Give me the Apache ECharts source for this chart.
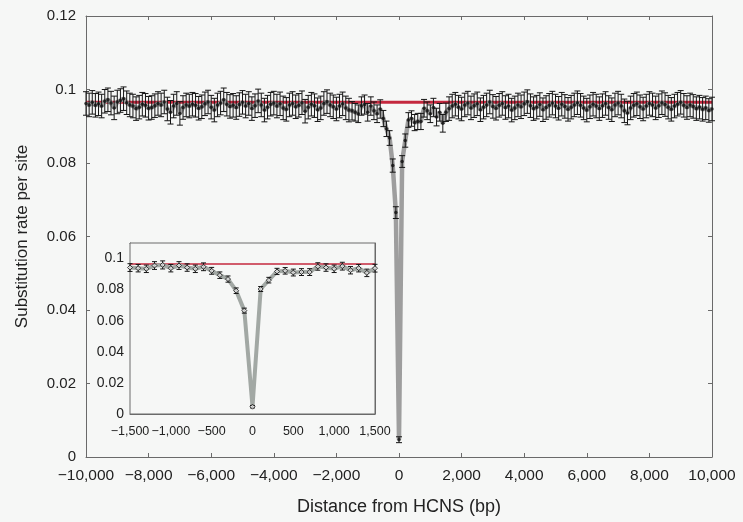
<!DOCTYPE html>
<html>
<head>
<meta charset="utf-8">
<script src="https://cdn.jsdelivr.net/npm/echarts@6/dist/echarts.min.js"></script>
<style>html,body{margin:0;padding:0;background:#f6f7f6;}#c{width:743px;height:522px;}</style>
</head>
<body>
<div id="c"></div>
<script>
// Bin positions (bp): 100 bp bins from -10000 to 10000
const BIN_START = -10000;
const BIN_WIDTH = 100;

// Substitution rate, bins -10000 .. -1600
const farLeft = [
  0.0962, 0.0958, 0.0965, 0.0957, 0.0961, 0.0955, 0.0968, 0.0972, 0.0963, 0.0950,
  0.0966, 0.0970, 0.0975, 0.0964, 0.0958, 0.0955, 0.0948, 0.0952, 0.0960, 0.0957,
  0.0949, 0.0951, 0.0956, 0.0962, 0.0958, 0.0966, 0.0947, 0.0938, 0.0955, 0.0962,
  0.0935, 0.0951, 0.0958, 0.0955, 0.0960, 0.0957, 0.0949, 0.0953, 0.0961, 0.0966,
  0.0952, 0.0944, 0.0958, 0.0963, 0.0972, 0.0960, 0.0954, 0.0957, 0.0951, 0.0959,
  0.0965, 0.0955, 0.0962, 0.0948, 0.0956, 0.0969, 0.0958, 0.0944, 0.0952, 0.0960,
  0.0963, 0.0955, 0.0961, 0.0950, 0.0946, 0.0958, 0.0962, 0.0953, 0.0957, 0.0964,
  0.0941, 0.0952, 0.0960, 0.0956, 0.0945, 0.0950, 0.0962, 0.0967, 0.0958, 0.0953,
  0.0947, 0.0955, 0.0961, 0.0950, 0.0944
];
// Substitution rate, bins -1500 .. 1500 (also shown in the inset)
const core = [
  0.0942, 0.0938, 0.0934, 0.0955, 0.0959, 0.0938, 0.0955, 0.0942, 0.0934, 0.0947,
  0.0921, 0.0893, 0.0868, 0.0793, 0.0665, 0.0047, 0.0804, 0.0861, 0.0917, 0.0921,
  0.0910, 0.0913, 0.0913, 0.0949, 0.0942, 0.0934, 0.0951, 0.0925, 0.0938, 0.0908,
  0.0938
];
const coreErr = [
  0.0025, 0.0024, 0.0024, 0.0025, 0.0026, 0.0024, 0.0025, 0.0024, 0.0024, 0.0025,
  0.0022, 0.0021, 0.0020, 0.0018, 0.0016, 0.0008, 0.0016, 0.0018, 0.0020, 0.0021,
  0.0022, 0.0022, 0.0022, 0.0024, 0.0024, 0.0024, 0.0025, 0.0024, 0.0024, 0.0024,
  0.0025
];
// Substitution rate, bins 1600 .. 10000
const farRight = [
  0.0948, 0.0955, 0.0960, 0.0952, 0.0947, 0.0958, 0.0963, 0.0950, 0.0956, 0.0961,
  0.0945, 0.0952, 0.0958, 0.0966, 0.0954, 0.0949, 0.0957, 0.0962, 0.0951, 0.0955,
  0.0944, 0.0950, 0.0958, 0.0953, 0.0961, 0.0967, 0.0956, 0.0948, 0.0952, 0.0959,
  0.0945, 0.0951, 0.0957, 0.0963, 0.0955, 0.0949, 0.0960, 0.0954, 0.0946, 0.0952,
  0.0958, 0.0964, 0.0957, 0.0950, 0.0944, 0.0953, 0.0960, 0.0955, 0.0948, 0.0956,
  0.0962, 0.0951, 0.0945, 0.0958, 0.0963, 0.0955, 0.0942, 0.0936, 0.0950, 0.0957,
  0.0961, 0.0953, 0.0947, 0.0955, 0.0962, 0.0958, 0.0950, 0.0956, 0.0964, 0.0959,
  0.0952, 0.0946, 0.0955, 0.0960, 0.0965, 0.0957, 0.0951, 0.0958, 0.0954, 0.0948,
  0.0952, 0.0946, 0.0950, 0.0943, 0.0947
];
const FAR_ERR = 0.0032;
const NEUTRAL_RATE = 0.0965;

const mainXTicks = { min: -10000, max: 10000, interval: 2000 };
const mainYTicks = { min: 0, max: 0.12, interval: 0.02 };
const insetXTicks = { min: -1500, max: 1500, interval: 500 };
const insetYTicks = { min: 0, max: 0.11, interval: 0.02 };

// ---- build data ----
const values = farLeft.concat(core, farRight);
const errs = farLeft.map(() => FAR_ERR).concat(coreErr, farRight.map(() => FAR_ERR));
const pts = values.map((v, i) => [BIN_START + i * BIN_WIDTH, v]);
const bars = values.map((v, i) => [BIN_START + i * BIN_WIDTH, v - errs[i], v + errs[i]]);
const corePts = pts.filter(p => p[0] >= -1500 && p[0] <= 1500);
const coreBars = bars.filter(p => p[0] >= -1500 && p[0] <= 1500);

const fmtNum = v => (v < 0 ? '\u2212' : '') + Math.abs(v).toLocaleString('en-US');

function errItem(cap) {
  return function (params, api) {
    const x = api.value(0);
    const lo = api.coord([x, api.value(1)]);
    const hi = api.coord([x, api.value(2)]);
    const st = { stroke: '#151515', lineWidth: 1 };
    return {
      type: 'group',
      children: [
        { type: 'line', shape: { x1: lo[0], y1: lo[1], x2: hi[0], y2: hi[1] }, style: st },
        { type: 'line', shape: { x1: lo[0] - cap, y1: lo[1], x2: lo[0] + cap, y2: lo[1] }, style: st },
        { type: 'line', shape: { x1: hi[0] - cap, y1: hi[1], x2: hi[0] + cap, y2: hi[1] }, style: st }
      ]
    };
  };
}

const FONT = 'Liberation Sans';
const axisLineStyle = { color: '#6a6a6a', width: 1 };

function xAx(grid, t, pos, labels, fs, margin) {
  return {
    type: 'value', gridIndex: grid, position: pos, min: t.min, max: t.max, interval: t.interval,
    axisLine: { show: true, onZero: false, lineStyle: axisLineStyle },
    axisTick: { show: true, inside: true, length: 4, lineStyle: axisLineStyle },
    axisLabel: { show: labels, color: '#222', fontSize: fs, fontFamily: FONT, margin: margin, formatter: fmtNum, hideOverlap: false, showMinLabel: true, showMaxLabel: true },
    splitLine: { show: false }
  };
}
function yAx(grid, t, pos, labels, fs, margin) {
  return {
    type: 'value', gridIndex: grid, position: pos, min: t.min, max: t.max, interval: t.interval,
    axisLine: { show: true, onZero: false, lineStyle: axisLineStyle },
    axisTick: { show: true, inside: true, length: 4, lineStyle: axisLineStyle },
    axisLabel: { show: labels, color: '#222', fontSize: fs, fontFamily: FONT, margin: margin, showMaxLabel: grid === 0 },
    splitLine: { show: false }
  };
}

const xAxes = [
  Object.assign(xAx(0, mainXTicks, 'bottom', true, 15.5, 11), {
    name: 'Distance from HCNS (bp)', nameLocation: 'middle', nameGap: 41,
    nameTextStyle: { color: '#222', fontSize: 18, fontFamily: FONT }
  }),
  xAx(0, mainXTicks, 'top', false, 14, 8),
  xAx(1, insetXTicks, 'bottom', true, 12.5, 11),
  xAx(1, insetXTicks, 'top', false, 13, 8)
];
const yAxes = [
  Object.assign(yAx(0, mainYTicks, 'left', true, 15, 10), {
    name: 'Substitution rate per site', nameLocation: 'middle', nameGap: 55,
    nameTextStyle: { color: '#222', fontSize: 17, fontFamily: FONT }
  }),
  yAx(0, mainYTicks, 'right', false, 14, 8),
  yAx(1, insetYTicks, 'left', true, 14, 6),
  yAx(1, insetYTicks, 'right', false, 13, 8)
];

const chart = echarts.init(document.getElementById('c'), null, { renderer: 'canvas' });
chart.setOption({
  backgroundColor: '#f6f7f6',
  animation: false,
  grid: [
    { left: 86, right: 31, top: 16, bottom: 65 },
    { left: 130, right: 368, top: 243, bottom: 108, show: true, backgroundColor: '#f6f7f6', borderColor: '#6a6a6a', borderWidth: 1, z: 5 }
  ],
  xAxis: xAxes,
  yAxis: yAxes,
  series: [
    { type: 'line', xAxisIndex: 0, yAxisIndex: 0, data: [[-10000, NEUTRAL_RATE], [10000, NEUTRAL_RATE]], showSymbol: false, lineStyle: { color: '#c4283e', width: 3 }, z: 1 },
    { type: 'line', xAxisIndex: 0, yAxisIndex: 0, data: pts, showSymbol: false, lineStyle: { color: '#9e9e9e', width: 4.5 }, z: 2 },
    { type: 'custom', xAxisIndex: 0, yAxisIndex: 0, data: bars, renderItem: errItem(3), z: 3 },
    { type: 'scatter', xAxisIndex: 0, yAxisIndex: 0, data: pts, symbol: 'circle', symbolSize: 3.5, itemStyle: { color: '#111' }, z: 4 },

    { type: 'line', xAxisIndex: 2, yAxisIndex: 2, data: [[-1500, NEUTRAL_RATE], [1500, NEUTRAL_RATE]], showSymbol: false, lineStyle: { color: '#c4283e', width: 1.5 }, z: 6 },
    { type: 'line', xAxisIndex: 2, yAxisIndex: 2, data: corePts, showSymbol: false, lineStyle: { color: '#a2a8a4', width: 4 }, z: 7 },
    { type: 'custom', xAxisIndex: 2, yAxisIndex: 2, data: coreBars, renderItem: errItem(2.5), z: 8 },
    { type: 'scatter', xAxisIndex: 2, yAxisIndex: 2, data: corePts, symbol: 'diamond', symbolSize: 5, itemStyle: { color: '#eee', borderColor: '#111', borderWidth: 1 }, z: 9 }
  ]
});
</script>
</body>
</html>
